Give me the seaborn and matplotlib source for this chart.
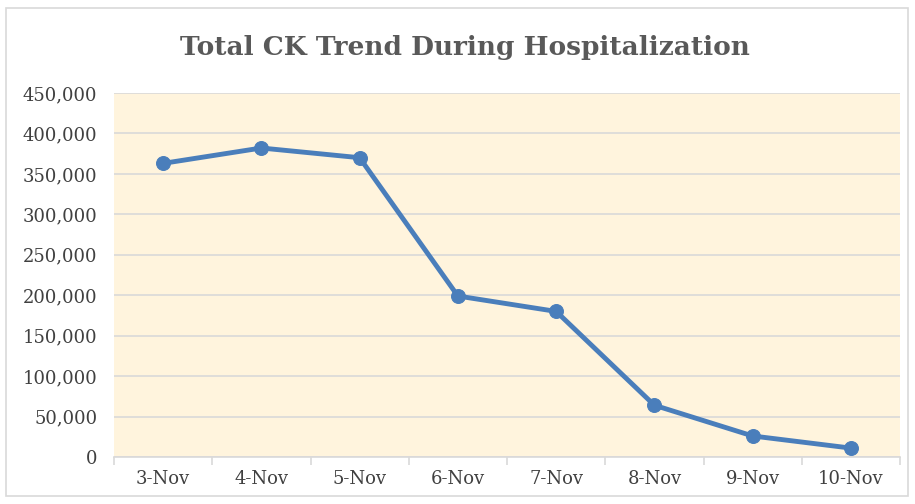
import numpy as np
import pandas as pd
import matplotlib
matplotlib.use('Agg')
import matplotlib.pyplot as plt
import seaborn as sns
from matplotlib.ticker import FuncFormatter, FixedLocator
from matplotlib.patches import Rectangle

# chart data
dates = ['3-Nov', '4-Nov', '5-Nov', '6-Nov', '7-Nov', '8-Nov', '9-Nov', '10-Nov']
total_ck = [363000, 382000, 370000, 199000, 180000, 64000, 26000, 11000]
y_ticks = [0, 50000, 100000, 150000, 200000, 250000, 300000, 350000, 400000, 450000]

df = pd.DataFrame({'pos': np.arange(len(dates)), 'date': dates, 'ck': total_ck})

sns.set_theme(style='white')
plt.rcParams['font.family'] = ['DejaVu Serif']

fig = plt.figure(figsize=(9.15, 5.04), dpi=100)
ax = fig.add_axes([114 / 915, 47 / 504, 786 / 915, 364 / 504])
ax.set_facecolor('#FFF4DD')

sns.lineplot(data=df, x='pos', y='ck', ax=ax, color='#4A7EBB', linewidth=3.5,
             marker='o', markersize=10, markeredgecolor='#4A7EBB', zorder=3)

ax.set_xlim(-0.5, len(dates) - 0.5)
ax.set_ylim(0, 450000)
ax.set_xticks(df['pos'])
ax.set_xticklabels(dates)
ax.xaxis.set_minor_locator(FixedLocator(np.arange(-0.5, len(dates), 1.0)))
ax.set_yticks(y_ticks)
ax.yaxis.set_major_formatter(FuncFormatter(lambda v, p: f'{int(v):,}'))
ax.set_xlabel('')
ax.set_ylabel('')

ax.grid(axis='y', color='#D9D9D9', linewidth=1.2, zorder=0)
ax.set_axisbelow(True)
for side in ['top', 'right', 'left']:
    ax.spines[side].set_visible(False)
ax.spines['bottom'].set_color('#D9D9D9')
ax.spines['bottom'].set_linewidth(1.2)

ax.tick_params(axis='x', which='major', length=0, pad=9, labelsize=13, labelcolor='#404040')
ax.tick_params(axis='x', which='minor', length=6, width=1.2, color='#D9D9D9', bottom=True)
ax.tick_params(axis='y', length=0, pad=12, labelsize=13, labelcolor='#404040')

fig.text(0.508, 0.906, 'Total CK Trend During Hospitalization', ha='center', va='center',
         fontsize=19, fontweight='bold', color='#595959')

fig.patches.append(Rectangle((6 / 915, 8 / 504), 902 / 915, 488 / 504, transform=fig.transFigure,
                             fill=False, edgecolor='#D9D9D9', linewidth=1.2))

fig.savefig('out.png', dpi=100)
